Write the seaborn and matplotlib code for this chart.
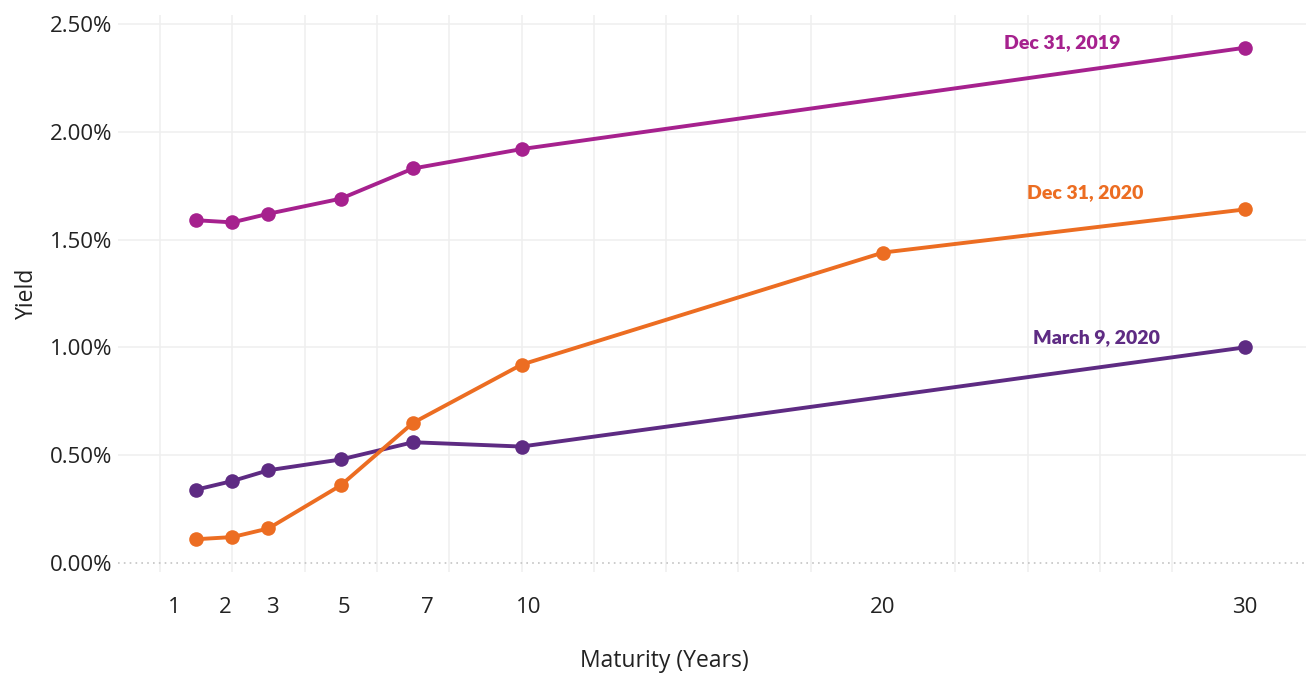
import pandas as pd
import seaborn as sns
import matplotlib.pyplot as plt
from matplotlib.ticker import MultipleLocator, FuncFormatter

# Treasury yield curves (values in %)
maturity_short = [1, 2, 3, 5, 7, 10, 30]
maturity_full = [1, 2, 3, 5, 7, 10, 20, 30]
dec_2019 = [1.59, 1.58, 1.62, 1.69, 1.83, 1.92, 2.39]
mar_2020 = [0.34, 0.38, 0.43, 0.48, 0.56, 0.54, 1.00]
dec_2020 = [0.11, 0.12, 0.16, 0.36, 0.65, 0.92, 1.44, 1.64]

series_names = ["Dec 31, 2019", "March 9, 2020", "Dec 31, 2020"]
series_colors = ["#a6218e", "#5e2b83", "#ec6d22"]

tick_labels = ["1", "2", "3", "5", "7", "10", "20", "30"]
tick_label_pos = [0.4, 1.8, 3.1, 5.1, 7.4, 10.2, 20, 30]

frames = []
for name, xs, ys in [(series_names[0], maturity_short, dec_2019),
                     (series_names[1], maturity_short, mar_2020),
                     (series_names[2], maturity_full, dec_2020)]:
    frames.append(pd.DataFrame({"maturity": xs, "yield": ys, "curve": name}))
df = pd.concat(frames, ignore_index=True)

sns.set_theme(style="white")
plt.rcParams["font.family"] = ["Open Sans", "DejaVu Sans"]

fig = plt.figure(figsize=(13.06, 6.77), dpi=100)
ax = fig.add_axes([0.0904, 0.1551, 0.9096, 0.8227])

palette = dict(zip(series_names, series_colors))
sns.lineplot(data=df, x="maturity", y="yield", hue="curve", palette=palette,
             marker="o", markersize=10.5, markeredgewidth=0, linewidth=2.8,
             legend=False, ax=ax, zorder=3)

ax.set_xlim(-1.16, 31.7)
ax.set_ylim(-0.042, 2.542)

# grid: vertical lines every 2 years (minor), horizontal at each 0.5%
ax.xaxis.set_minor_locator(MultipleLocator(2))
ax.set_xticks(tick_label_pos)
ax.set_xticklabels(tick_labels)
ax.set_yticks([0, 0.5, 1.0, 1.5, 2.0, 2.5])
ax.yaxis.set_major_formatter(FuncFormatter(lambda v, p: f"{v:.2f}%"))

ax.grid(False)
ax.grid(which="minor", axis="x", color="#efefef", linewidth=1.1)
ax.grid(which="major", axis="y", color="#efefef", linewidth=1.1)
ax.get_ygridlines()[0].set_visible(False)
ax.axhline(0, color="#c4c4c4", linewidth=1.2, linestyle=(0, (1, 2.5)), zorder=2)

ax.tick_params(axis="both", which="both", length=0)
ax.tick_params(axis="x", which="major", pad=18, labelsize=16, labelcolor="#222222")
ax.tick_params(axis="y", pad=4, labelsize=16, labelcolor="#222222")

for s in ax.spines.values():
    s.set_visible(False)

ax.set_xlabel("Maturity (Years)", fontsize=16.5, color="#222222", labelpad=22, x=0.46)
ax.set_ylabel("Yield", fontsize=16.5, color="#222222", labelpad=8)

# curve labels
label_pos = {"Dec 31, 2019": (24.95, 2.412),
             "Dec 31, 2020": (25.6, 1.716),
             "March 9, 2020": (25.9, 1.044)}
for name, color in zip(series_names, series_colors):
    x, y = label_pos[name]
    ax.text(x, y, name, color=color, fontsize=14, fontweight="heavy",
            ha="center", va="center", family=["Lato", "DejaVu Sans"])

fig.savefig("out.png", dpi=100)
